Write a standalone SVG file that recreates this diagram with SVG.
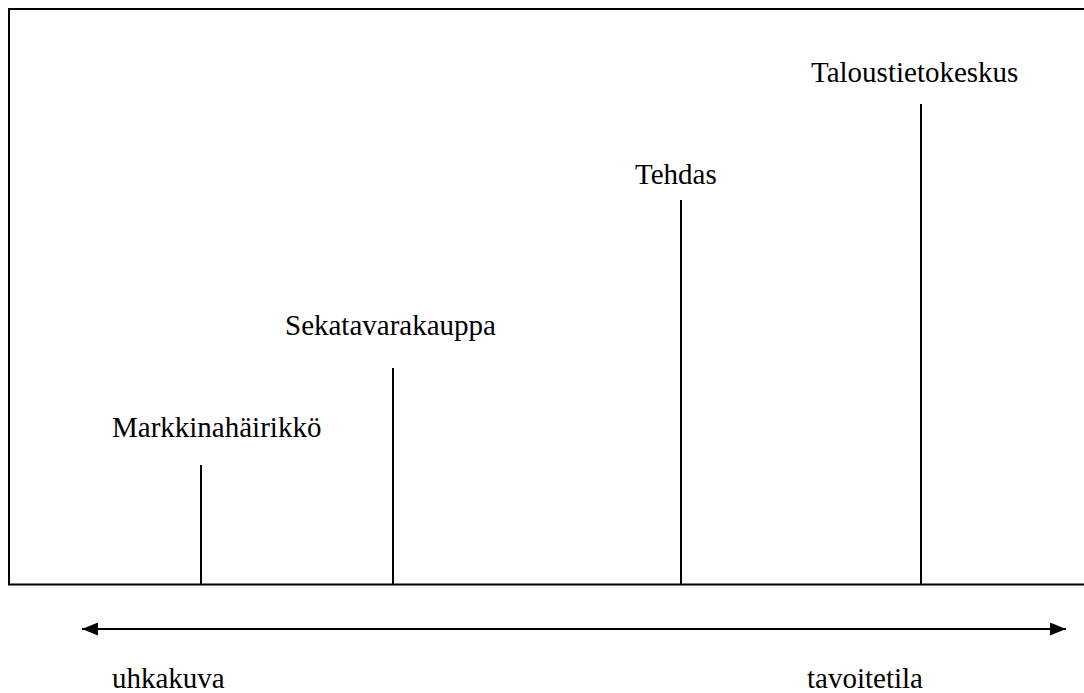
<svg xmlns="http://www.w3.org/2000/svg" width="1084" height="693" viewBox="0 0 1084 693">
  <style>
    .lbl { font-family: "Liberation Serif", "Times New Roman", serif; font-size: 29px; fill: #000; }
    .ln { stroke: #000; stroke-width: 2; fill: none; }
  </style>
  <defs>
    <marker id="head" viewBox="0 0 16 13" refX="16" refY="6.5" markerWidth="16" markerHeight="13" markerUnits="userSpaceOnUse" orient="auto-start-reverse">
      <path d="M0,0 L16,6.5 L0,13 Z" fill="#000"/>
    </marker>
  </defs>
  <rect width="1084" height="693" fill="#fff"/>

  <!-- open frame: top, left and bottom sides -->
  <g id="frame">
    <polyline class="ln" points="1084,9 9,9 9,584.5 1084,584.5"/>
  </g>

  <g id="connectors">
    <line class="ln" x1="201" y1="465" x2="201" y2="584"/>
    <line class="ln" x1="393" y1="368" x2="393" y2="584"/>
    <line class="ln" x1="681" y1="200" x2="681" y2="584"/>
    <line class="ln" x1="921" y1="104" x2="921" y2="584"/>
    <line class="ln" x1="82" y1="629" x2="1066" y2="629" marker-start="url(#head)" marker-end="url(#head)"/>
  </g>

  <g id="markkinahairikko"><text class="lbl" x="112" y="437">Markkinahäirikkö</text></g>
  <g id="sekatavarakauppa"><text class="lbl" x="285" y="335">Sekatavarakauppa</text></g>
  <g id="tehdas"><text class="lbl" x="635" y="184">Tehdas</text></g>
  <g id="taloustietokeskus"><text class="lbl" x="811" y="82">Taloustietokeskus</text></g>
  <g id="uhkakuva"><text class="lbl" x="112" y="688">uhkakuva</text></g>
  <g id="tavoitetila"><text class="lbl" x="807" y="688">tavoitetila</text></g>
</svg>
